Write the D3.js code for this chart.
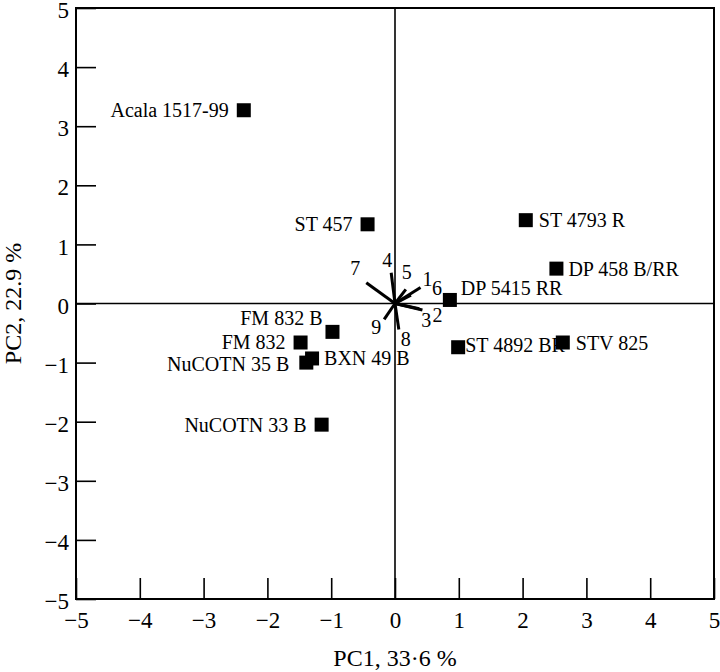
<!DOCTYPE html>
<html>
<head>
<meta charset="utf-8">
<script src="https://cdn.jsdelivr.net/npm/d3@7"></script>
<style>
  body { margin: 0; background: #fff; }
  svg text { font-family: "Liberation Serif", "DejaVu Serif", serif; fill: #000; }
</style>
</head>
<body>
<div id="chart"></div>
<script>

// Data
var cultivars = ['Acala 1517-99','ST 457','ST 4793 R','DP 458 B/RR','DP 5415 RR','ST 4892 BR',
                 'STV 825','FM 832 B','FM 832','BXN 49 B','NuCOTN 35 B','NuCOTN 33 B'];
var pc1Scores = [-2.37,-0.43,2.05,2.53,0.86,0.99,2.63,-0.98,-1.48,-1.30,-1.39,-1.15];
var pc2Scores = [3.27,1.34,1.41,0.59,0.06,-0.74,-0.66,-0.48,-0.66,-0.93,-1.00,-2.05];

var traits = ['1','2','3','4','5','6','7','8','9'];
var pc1Loadings = [0.40,0.43,0.38,-0.06,0.17,0.25,-0.45,0.06,-0.17];
var pc2Loadings = [0.27,-0.11,-0.09,0.52,0.24,0.14,0.35,-0.44,-0.27];

var tickValues = [-5,-4,-3,-2,-1,0,1,2,3,4,5];

// Label placement (anchor, dx, dy in px)
var cultivarLabelPos = {
  'Acala 1517-99': ['end',-15,0],
  'ST 457': ['end',-15,0],
  'ST 4793 R': ['start',13,0],
  'DP 458 B/RR': ['start',12,0],
  'DP 5415 RR': ['start',11,-12],
  'ST 4892 BR': ['start',7,-2],
  'STV 825': ['start',13,0],
  'FM 832 B': ['end',-10,-14],
  'FM 832': ['end',-15,-1],
  'BXN 49 B': ['start',12,0],
  'NuCOTN 35 B': ['end',-17,1],
  'NuCOTN 33 B': ['end',-15,0]
};
var traitLabelPos = {
  '1': [7,-9], '2': [15,5], '3': [7,11], '4': [-4,-13], '5': [1,-17],
  '6': [26,-7], '7': [-11,-15], '8': [7,9], '9': [-8,8]
};

var w = 720, h = 672;
var margin = {left: 76, right: 6, top: 8, bottom: 73};

var svg = d3.select('#chart').append('svg').attr('width',w).attr('height',h);

var x = d3.scaleLinear().domain([-5,5]).range([margin.left, w - margin.right]);
var y = d3.scaleLinear().domain([-5,5]).range([h - margin.bottom, margin.top]);

function fmt(d){ return d < 0 ? '\u2212' + Math.abs(d) : d; }

// Axes with inward ticks
var xAxis = d3.axisBottom(x).tickValues(tickValues).tickSize(-21).tickFormat(fmt);
var yAxis = d3.axisLeft(y).tickValues(tickValues).tickSize(-20).tickFormat(fmt);

var gx = svg.append('g').attr('transform','translate(0,' + y(-5) + ')').call(xAxis);
var gy = svg.append('g').attr('transform','translate(' + x(-5) + ',0)').call(yAxis);
[gx, gy].forEach(function(g){
  g.select('.domain').remove();
  g.selectAll('.tick line').attr('stroke','#000').attr('stroke-width',1.6);
  g.selectAll('.tick text').style('font-size','23px').attr('fill','#000');
});
gy.selectAll('.tick text').attr('x',-7).attr('dy','0.42em');
gx.selectAll('.tick text').attr('y',13);

// Frame and zero lines
svg.append('rect')
  .attr('x',x(-5)).attr('y',y(5))
  .attr('width',x(5)-x(-5)).attr('height',y(-5)-y(5))
  .attr('fill','none').attr('stroke','#000').attr('stroke-width',2);
svg.append('line').attr('x1',x(-5)).attr('x2',x(5)).attr('y1',y(0)).attr('y2',y(0))
  .attr('stroke','#000').attr('stroke-width',1.6);
svg.append('line').attr('x1',x(0)).attr('x2',x(0)).attr('y1',y(-5)).attr('y2',y(5))
  .attr('stroke','#000').attr('stroke-width',1.6);

// Axis titles
svg.append('text').attr('x',x(0)).attr('y',h - 6).attr('text-anchor','middle')
  .style('font-size','24px').text('PC1, 33\u00b76 %');
svg.append('text').attr('transform','translate(21,' + y(0) + ') rotate(-90)')
  .attr('text-anchor','middle').style('font-size','24px').text('PC2, 22.9 %');

// Loading vectors
var vectors = svg.selectAll('.vec').data(traits).enter().append('g').attr('class','vec');
vectors.append('line')
  .attr('x1',x(0)).attr('y1',y(0))
  .attr('x2',function(d,i){ return x(pc1Loadings[i]); })
  .attr('y2',function(d,i){ return y(pc2Loadings[i]); })
  .attr('stroke','#000').attr('stroke-width',3);
vectors.append('text')
  .attr('x',function(d,i){ return x(pc1Loadings[i]) + traitLabelPos[d][0]; })
  .attr('y',function(d,i){ return y(pc2Loadings[i]) + traitLabelPos[d][1]; })
  .attr('text-anchor','middle').attr('dy','0.35em')
  .style('font-size','20px').text(function(d){ return d; });

// Cultivar points
var pts = svg.selectAll('.pt').data(cultivars).enter().append('g').attr('class','pt');
pts.append('rect')
  .attr('x',function(d,i){ return x(pc1Scores[i]) - 7; })
  .attr('y',function(d,i){ return y(pc2Scores[i]) - 7; })
  .attr('width',14).attr('height',14).attr('fill','#000');
pts.append('text')
  .attr('x',function(d,i){ return x(pc1Scores[i]) + cultivarLabelPos[d][1]; })
  .attr('y',function(d,i){ return y(pc2Scores[i]) + cultivarLabelPos[d][2]; })
  .attr('text-anchor',function(d){ return cultivarLabelPos[d][0]; })
  .attr('dy','0.35em')
  .style('font-size','20px').text(function(d){ return d; });

</script>
</body>
</html>
